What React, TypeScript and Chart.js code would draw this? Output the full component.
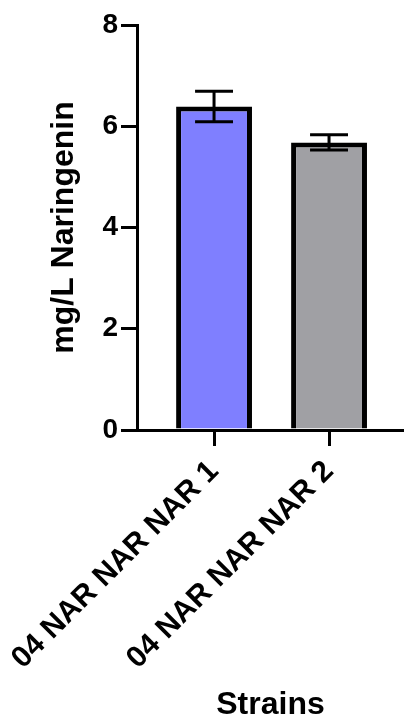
import React, { useEffect, useRef } from "react";
import { Chart, registerables } from "chart.js";

Chart.register(...registerables);

// ---- data ----
const categories = ["04 NAR NAR NAR 1", "04 NAR NAR NAR 2"];
const naringeninMean = [6.39, 5.68];
const naringeninErr = [0.3, 0.15];
const yTickValues = [0, 2, 4, 6, 8];
const barColors = ["#7F7FFF", "#A0A0A4"];

const W = 404;
const H = 721;
const FONT = "'Liberation Sans', Arial, Helvetica, sans-serif";

const errorBarPlugin = {
  id: "errorBars",
  afterDatasetsDraw(chart: any) {
    const ctx = chart.ctx;
    const meta = chart.getDatasetMeta(0);
    const y = chart.scales.y;
    ctx.save();
    ctx.strokeStyle = "#000";
    ctx.lineWidth = 3;
    ctx.lineCap = "butt";
    meta.data.forEach((bar: any, i: number) => {
      const { x, width } = bar.getProps(["x", "width"], true);
      const m = naringeninMean[i];
      const e = naringeninErr[i];
      const top = y.getPixelForValue(m + e);
      const bot = y.getPixelForValue(m - e);
      const half = width * 0.25;
      ctx.beginPath();
      ctx.moveTo(x, top);
      ctx.lineTo(x, bot);
      ctx.moveTo(x - half, top);
      ctx.lineTo(x + half, top);
      ctx.moveTo(x - half, bot);
      ctx.lineTo(x + half, bot);
      ctx.stroke();
    });
    ctx.restore();
  },
};

export default function App() {
  const ref = useRef<HTMLCanvasElement | null>(null);

  useEffect(() => {
    if (!ref.current) return;
    const chart = new Chart(ref.current, {
      type: "bar",
      data: {
        datasets: [
          {
            data: naringeninMean.map((v, i) => ({ x: i, y: v })),
            backgroundColor: barColors,
            borderColor: "#000",
            borderWidth: 5,
            borderSkipped: "start",
            barPercentage: 0.66,
            categoryPercentage: 1,
          },
        ],
      },
      options: {
        responsive: false,
        animation: false,
        devicePixelRatio: 1,
        layout: { padding: { top: 25, left: 0, right: 0, bottom: 0 } },
        plugins: { legend: { display: false }, tooltip: { enabled: false } },
        scales: {
          x: {
            type: "linear",
            min: -0.67,
            max: 1.652,
            offset: false,
            afterBuildTicks: (s: any) => {
              s.ticks = categories.map((_, i) => ({ value: i }));
            },
            afterFit: (s: any) => {
              s.height = H - 430;
              s.paddingLeft = 0;
              s.paddingRight = 0;
            },
            grid: {
              offset: false,
              drawOnChartArea: false,
              drawTicks: true,
              tickLength: 16,
              lineWidth: 3,
              color: "#000",
            },
            border: { display: true, color: "#000", width: 3 },
            ticks: {
              autoSkip: false,
              minRotation: 45,
              maxRotation: 45,
              padding: 8,
              color: "#000",
              font: { family: FONT, size: 30, weight: "bold" },
              callback: (v: any) => categories[Math.round(Number(v))] ?? "",
            },
            title: {
              display: true,
              text: "Strains",
              color: "#000",
              font: { family: FONT, size: 32, weight: "bold", lineHeight: 1 },
              padding: { top: 0, bottom: 0 },
            },
          },
          y: {
            type: "linear",
            min: 0,
            max: 8,
            afterBuildTicks: (s: any) => {
              s.ticks = yTickValues.map((v) => ({ value: v }));
            },
            afterFit: (s: any) => {
              s.width = 137;
            },
            grid: {
              drawOnChartArea: false,
              drawTicks: true,
              tickLength: 16,
              lineWidth: 3,
              color: "#000",
            },
            border: { display: true, color: "#000", width: 3 },
            ticks: {
              padding: 3,
              color: "#000",
              font: { family: FONT, size: 28, weight: "bold" },
            },
            title: {
              display: true,
              text: "mg/L Naringenin",
              color: "#000",
              font: { family: FONT, size: 32, weight: "bold", lineHeight: 1 },
              padding: { top: 48, bottom: 0 },
            },
          },
        },
      },
      plugins: [errorBarPlugin],
    } as any);
    return () => chart.destroy();
  }, []);

  return (
    <div style={{ position: "absolute", left: 0, top: 0, width: W, height: H, background: "#fff" }}>
      <canvas ref={ref} width={W} height={H} style={{ width: W, height: H, display: "block" }} />
    </div>
  );
}
